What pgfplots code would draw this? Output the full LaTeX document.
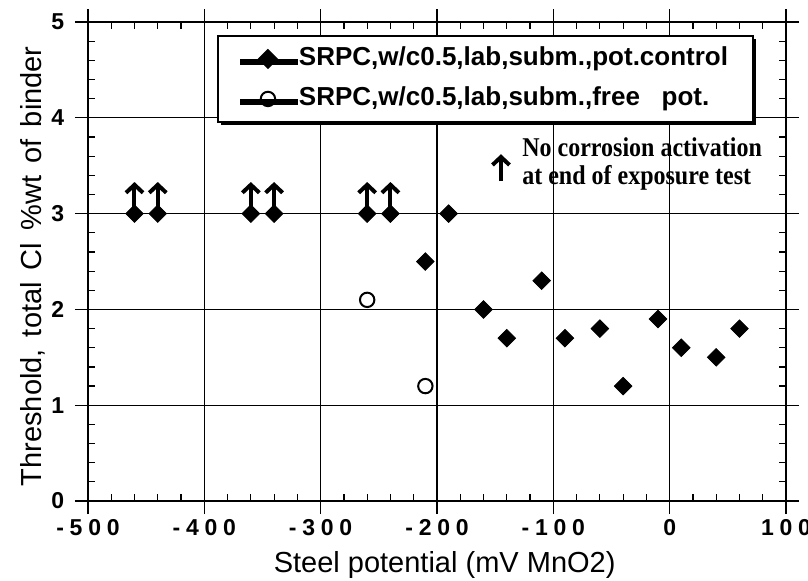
\documentclass[border=0pt]{standalone}
\usepackage{fontspec}
\setmainfont{Liberation Sans}
\newfontfamily\serifb{Liberation Serif}
\newfontfamily\tickfont{Liberation Sans}[LetterSpace=25]
\usepackage{pgfplots}
\pgfplotsset{compat=1.18}
\usetikzlibrary{arrows.meta,shadows}
\newcommand\ws{\hspace{0.42em}}
\pgfplotsset{
  mylegimg/.style={legend image code/.code={%
    \path[draw=none, fill=none, draw opacity=0, fill opacity=0] (0pt,-1pt) rectangle (28pt,1pt);
    \draw[mark repeat=2,mark phase=2,##1] plot coordinates {(1pt,0pt) (15pt,0pt) (27pt,0pt)};}}
}

\begin{document}
\begin{tikzpicture}
\begin{axis}[
  scale only axis, width=349pt, height=239.5pt,
  xmin=-500, xmax=100, ymin=0, ymax=5,
  xtick={-500,-400,...,100},
  xticklabels={-500,-400,-300,-200,-100,0,100},
  ytick={0,1,...,5},
  yticklabels={0,1,2,3,4,5},
  minor x tick num=4, minor y tick num=4,
  grid=major, major grid style={black, line width=0.6pt},
  axis line style={line width=1pt},
  tick style={black, line width=0.6pt},
  tick align=inside,
  major tick length=3.5pt, minor tick length=3.5pt,
  extra x ticks={-500,-400,...,100}, extra x tick labels={},
  extra y ticks={0,1,...,5}, extra y tick labels={},
  extra tick style={tick align=outside, major tick length=6.5pt, grid=none},
  xticklabel style={font=\tickfont\bfseries\fontsize{11.5}{11.5}\selectfont, yshift=-5.5pt},
  yticklabel style={font=\bfseries\fontsize{11.5}{11.5}\selectfont, xshift=-8.3pt},
  xlabel={Steel potential (mV MnO2)},
  ylabel={Threshold,\ws total\ws Cl\ws \%wt\ws of\ws binder},
  xlabel style={font=\fontsize{14.5}{16}\selectfont, at={(axis description cs:0.511,-0.134)}, anchor=center},
  ylabel style={font=\fontsize{14.5}{16}\selectfont, at={(axis description cs:-0.079,0.49)}, anchor=center},
  legend style={at={(0.1848,0.973)}, anchor=north west, draw=black, line width=1pt,
    font=\bfseries\fontsize{13}{15}\selectfont, cells={anchor=west},
    nodes={inner sep=2.5pt, text height=9.75pt, text depth=3.25pt},
    inner xsep=10pt, inner ysep=2.5pt, row sep=2pt, fill=white,
    drop shadow={shadow xshift=1.5pt, shadow yshift=-1.5pt, opacity=1, fill=black}},
  clip=false,
]
\coordinate (bbsw) at (rel axis cs:-0.126,-0.165);
\coordinate (bbne) at (rel axis cs:1.0315,1.046);

% arrows (no corrosion activation)
\addplot[forget plot, black, line width=2pt, -{Straight Barb[length=4pt,width=8.5pt]},
  quiver={u=0, v=0.33}] coordinates {
  (-460,3) (-440,3) (-360,3) (-340,3) (-260,3) (-240,3)
};
% annotation arrow
\addplot[forget plot, black, line width=2pt, -{Straight Barb[length=4pt,width=8.5pt]},
  quiver={u=0, v=0.28}] coordinates {(-145,3.34)};

\addplot[only marks, black, mark=square*, mark size=3.1pt, mark options={rotate=45}, mylegimg]
  coordinates {
  (-460,3) (-440,3) (-360,3) (-340,3) (-260,3) (-240,3) (-190,3)
  (-210,2.5) (-160,2.0) (-140,1.7) (-110,2.3) (-90,1.7) (-60,1.8)
  (-40,1.2) (-10,1.9) (10,1.6) (40,1.5) (60,1.8)
};
\addlegendentry{SRPC,w/c0.5,lab,subm.,pot.control}

\addplot[only marks, black, mark=o, mark size=3.6pt, mark options={fill=white, line width=1pt}, mylegimg]
  coordinates {
  (-260,2.1) (-210,1.2)
};
\addlegendentry{SRPC,w/c0.5,lab,subm.,free\ \ \ pot.}

\node[anchor=west, align=left, inner sep=0pt, yscale=1.13, transform shape,
  font=\serifb\bfseries\fontsize{12}{12.4}\selectfont]
  at (axis cs:-127,3.52) {No corrosion activation\\at end of exposure test};
\end{axis}
\pgfresetboundingbox
\path[use as bounding box] (bbsw) rectangle (bbne);
\end{tikzpicture}
\end{document}
